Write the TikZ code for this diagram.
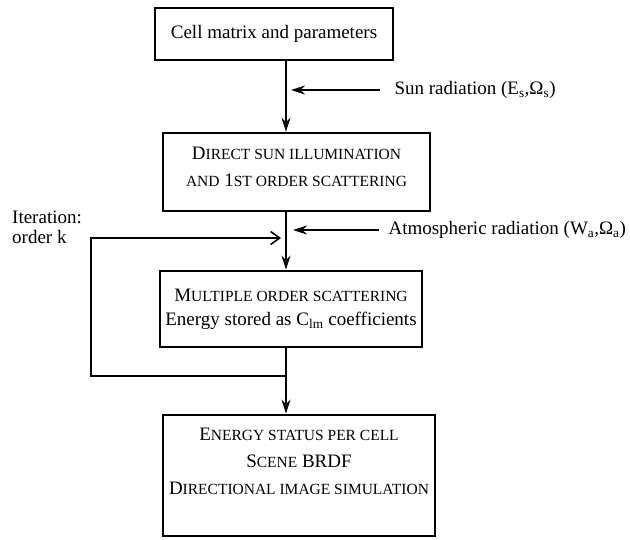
\documentclass[tikz,border=0pt]{standalone}
\usepackage{fontspec}
\setmainfont{Liberation Serif}
\usepackage{tikz}
\usetikzlibrary{arrows.meta,calc}
\newcommand{\smc}[1]{{\fontsize{15.5}{15.5}\selectfont\MakeUppercase{#1}}}
\tikzstyle{block} = [
    draw, line width=2.8pt, align=center, inner sep=0pt,
]
\tikzstyle{arrow} = [-{Stealth[length=14pt,width=9pt]}, line width=1.6pt]
\tikzstyle{feedback} = [-{Straight Barb[length=9pt,width=13pt]}, line width=1.6pt]

\begin{document}
\begin{tikzpicture}[x=1pt,y=-1pt,font=\fontsize{19}{27}\selectfont]
    \useasboundingbox (0,0) rectangle (630,539);
    \coordinate (trunk) at (286,0);

    % boxes
    \node (cells) at (274,34) [block, minimum width=238pt, minimum height=52pt]
        {Cell matrix and parameters};
    \node (direct) at (296.5,172) [block, minimum width=267pt, minimum height=78pt, text depth=10pt]
        {D\smc{irect sun illumination}\\\smc{and} 1\smc{st order scattering}};
    \node (multi) at (291,309) [block, minimum width=262pt, minimum height=76pt, font=\fontsize{19}{24}\selectfont]
        {M\smc{ultiple order scattering}\\Energy stored as C\textsubscript{lm} coefficients};
    \node (status) at (299,475.5) [block, minimum width=272pt, minimum height=121pt, text depth=28pt]
        {E\smc{nergy status per cell}\\S\smc{cene} BRDF\\D\smc{irectional image simulation}};

    % inputs
    \node (sun) at (391,90) [anchor=west] {Sun radiation (E\textsubscript{s},Ω\textsubscript{s})};
    \node (atmo) at (385,230) [anchor=west] {Atmospheric radiation (W\textsubscript{a},Ω\textsubscript{a})};
    \node (iter) at (12,211) [anchor=north west, align=left, inner sep=0pt, font=\fontsize{19}{20}\selectfont]
        {Iteration:\\order k};

    % main flow
    \draw[arrow] (cells.south -| trunk) -- (direct.north -| trunk);
    \draw[arrow] (direct.south -| trunk) -- (multi.north -| trunk);
    \draw[arrow] (multi.south -| trunk) -- (status.north -| trunk);
    \draw[arrow] ([xshift=-11pt]sun.west) -- ($(sun.west -| trunk)+(5,0)$);
    \draw[arrow] ([xshift=-6pt]atmo.west) -- ($(atmo.west -| trunk)+(7,0)$);

    % iteration loop
    \coordinate (loopbot) at (91,376);
    \coordinate (looptop) at (91,238);
    \draw[feedback] (loopbot -| trunk) -- (loopbot) -- (looptop) -- ($(looptop -| trunk)+(-5,0)$);

\end{tikzpicture}
\end{document}
